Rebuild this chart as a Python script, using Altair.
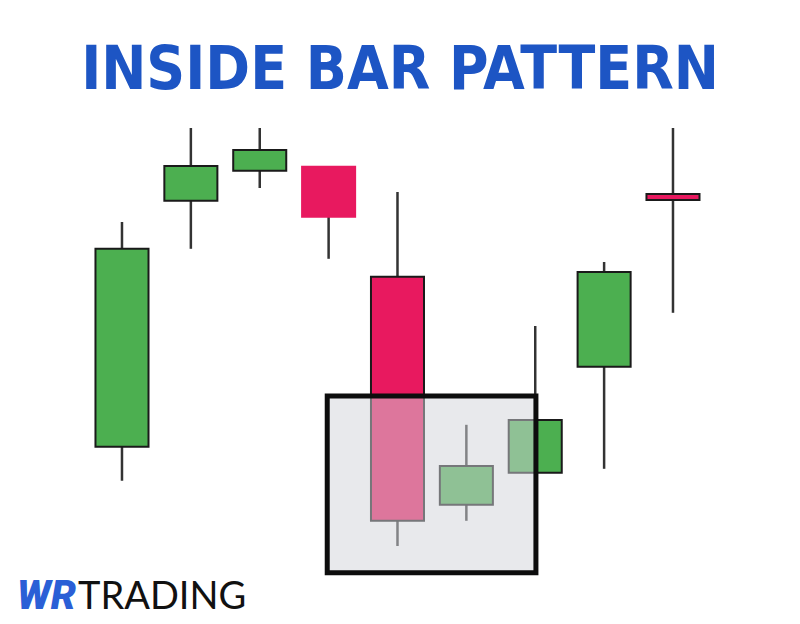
import altair as alt
import pandas as pd

# ---- data (price units, arbitrary scale) ----
candle_idx = [0, 1, 2, 3, 4, 5, 6, 7, 8]
opens  = [42.3, 103.8, 111.3, 112.3, 84.8, 27.8, 35.8, 62.3, 105.5]
closes = [91.8, 112.5, 116.5, 99.8, 23.8, 37.5, 49.0, 86.0, 104.0]
highs  = [98.5, 122.0, 122.0, 112.3, 106.0, 47.8, 72.5, 88.5, 122.0]
lows   = [33.8, 91.8, 107.0, 89.3, 17.5, 23.8, 35.8, 36.8, 75.8]

box_x = [2.98, 6.01]        # inside-bar highlight box (candle-index units)
box_price = [10.8, 55.0]    # inside-bar highlight box (price units)

TITLE = "INSIDE BAR PATTERN"
LOGO_A = "WR"
LOGO_B = "TRADING"

GREEN = "#4caf50"
RED = "#e8195f"

df = pd.DataFrame({"i": candle_idx, "open": opens, "close": closes,
                   "high": highs, "low": lows})
df["dir"] = ["up" if c >= o else "down" for o, c in zip(opens, closes)]

xs = alt.Scale(domain=[-1.655, 9.728], nice=False, zero=False)
ys = alt.Scale(domain=[0, 152], nice=False, zero=False)

base = alt.Chart(df)

wicks = base.mark_rule(color="#333333", strokeWidth=2.5).encode(
    x=alt.X("i:Q", scale=xs, axis=None),
    y=alt.Y("low:Q", scale=ys, axis=None),
    y2="high:Q",
)

bodies = base.transform_calculate(
    xl="datum.i - 0.385", xr="datum.i + 0.385"
).mark_rect(strokeWidth=2).encode(
    x=alt.X("xl:Q", scale=xs, axis=None),
    x2="xr:Q",
    y=alt.Y("open:Q", scale=ys, axis=None),
    y2="close:Q",
    color=alt.Color("dir:N", scale=alt.Scale(domain=["up", "down"], range=[GREEN, RED]), legend=None),
    stroke=alt.condition("datum.i == 3", alt.value(RED), alt.value("#1a1a1a")),
)

box_df = pd.DataFrame({"x1": [box_x[0]], "x2": [box_x[1]],
                       "y1": [box_price[0]], "y2": [box_price[1]]})
box = alt.Chart(box_df).mark_rect(
    fill="#d2d3da", fillOpacity=0.5, stroke="#0d0d0d", strokeWidth=5
).encode(
    x=alt.X("x1:Q", scale=xs, axis=None), x2="x2:Q",
    y=alt.Y("y1:Q", scale=ys, axis=None), y2="y2:Q",
)

title = alt.Chart(pd.DataFrame({"t": [TITLE]})).mark_text(
    font="Liberation Sans Narrow, DejaVu Sans Condensed, Roboto Condensed, sans-serif",
    fontWeight="bold", fontSize=60, color="#1d55c4", align="center", baseline="alphabetic"
).encode(text="t:N", x=alt.value(392), y=alt.value(81))

logo_a = alt.Chart(pd.DataFrame({"t": [LOGO_A]})).mark_text(
    font="Roboto", fontWeight=900, fontStyle="italic", fontSize=40,
    color="#2a5fd6", align="left", baseline="alphabetic"
).encode(text="t:N", x=alt.value(9), y=alt.value(601))

logo_b = alt.Chart(pd.DataFrame({"t": [LOGO_B]})).mark_text(
    font="Lato", fontWeight="normal", fontSize=38,
    color="#111111", align="left", baseline="alphabetic"
).encode(text="t:N", x=alt.value(70), y=alt.value(601))

chart = alt.layer(wicks, bodies, box, title, logo_a, logo_b).properties(
    width=784, height=608, padding=0, autosize=alt.AutoSizeParams(type="none"),
    background="white"
).configure_view(stroke=None)

chart.save("out.html", embed_options={"renderer": "svg", "actions": False})
